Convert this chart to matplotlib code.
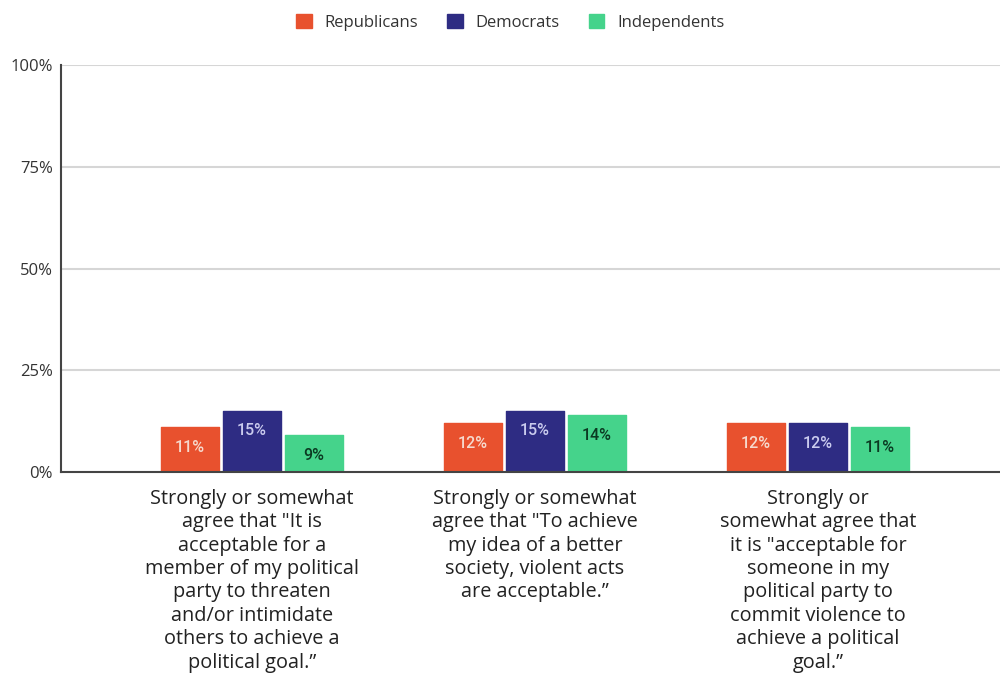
import matplotlib
matplotlib.use("Agg")
import matplotlib.pyplot as plt
from matplotlib.patches import Patch
import numpy as np

plt.rcParams['font.family'] = ['Open Sans', 'DejaVu Sans']

categories = [
    'Strongly or somewhat\nagree that "It is\nacceptable for a\nmember of my political\nparty to threaten\nand/or intimidate\nothers to achieve a\npolitical goal.\u201d',
    'Strongly or somewhat\nagree that "To achieve\nmy idea of a better\nsociety, violent acts\nare acceptable.\u201d',
    'Strongly or\nsomewhat agree that\nit is "acceptable for\nsomeone in my\npolitical party to\ncommit violence to\nachieve a political\ngoal.\u201d',
]
series_names = ['Republicans', 'Democrats', 'Independents']
republicans = [11, 12, 12]
democrats = [15, 15, 12]
independents = [9, 14, 11]
y_ticks = [0, 25, 50, 75, 100]
y_tick_labels = ['0%', '25%', '50%', '75%', '100%']

colors = ['#E8512E', '#2E2C83', '#45D38B']
label_colors = ['#F6D9CD', '#CACBEE', '#0B3A22']

fig = plt.figure(figsize=(10, 6.75), dpi=100)
ax = fig.add_axes([0.061, 0.3007, 0.939, 0.603])

x = np.arange(len(categories))
width = 0.205
offset = 0.219
for i, (vals, col, lc) in enumerate(zip([republicans, democrats, independents], colors, label_colors)):
    pos = x + (i - 1) * offset
    bars = ax.bar(pos, vals, width, color=col, edgecolor=col, linewidth=1.0,
                  joinstyle='round', zorder=3, label=series_names[i])
    for b, v in zip(bars, vals):
        ax.annotate(f'{v}%', (b.get_x() + b.get_width() / 2, v),
                    xytext=(0, -20), textcoords='offset pixels',
                    ha='center', va='center', fontsize=11.5, color=lc,
                    family=['Roboto', 'DejaVu Sans'], fontweight='medium', zorder=4)

ax.set_xlim(-0.675, 2.643)
ax.set_ylim(0, 100)
ax.set_yticks(y_ticks)
ax.set_yticklabels(y_tick_labels, fontsize=12, color='#333333')
ax.yaxis.grid(True, color='#d6d6d6', linewidth=1.5, zorder=0)
ax.set_axisbelow(True)
ax.tick_params(axis='y', length=0, pad=6)

ax.set_xticks(x)
ax.set_xticklabels(categories, fontsize=14.3, color='#222222', linespacing=1.23, va='top')
ax.tick_params(axis='x', length=0, pad=12)

for s in ['top', 'right']:
    ax.spines[s].set_visible(False)
ax.spines['left'].set_color('#444444')
ax.spines['left'].set_linewidth(1.5)
ax.spines['bottom'].set_color('#444444')
ax.spines['bottom'].set_linewidth(1.5)
ax.spines['bottom'].set_zorder(5)

handles = [Patch(facecolor=c, edgecolor=c, label=n) for c, n in zip(colors, series_names)]
fig.legend(handles=handles, loc='upper center', bbox_to_anchor=(0.51, 1.002), ncol=3,
           frameon=False, fontsize=12, handlelength=0.95, handleheight=0.95,
           handletextpad=0.75, columnspacing=1.75, labelcolor='#333333')

fig.savefig('out.png', dpi=100, facecolor='white')
